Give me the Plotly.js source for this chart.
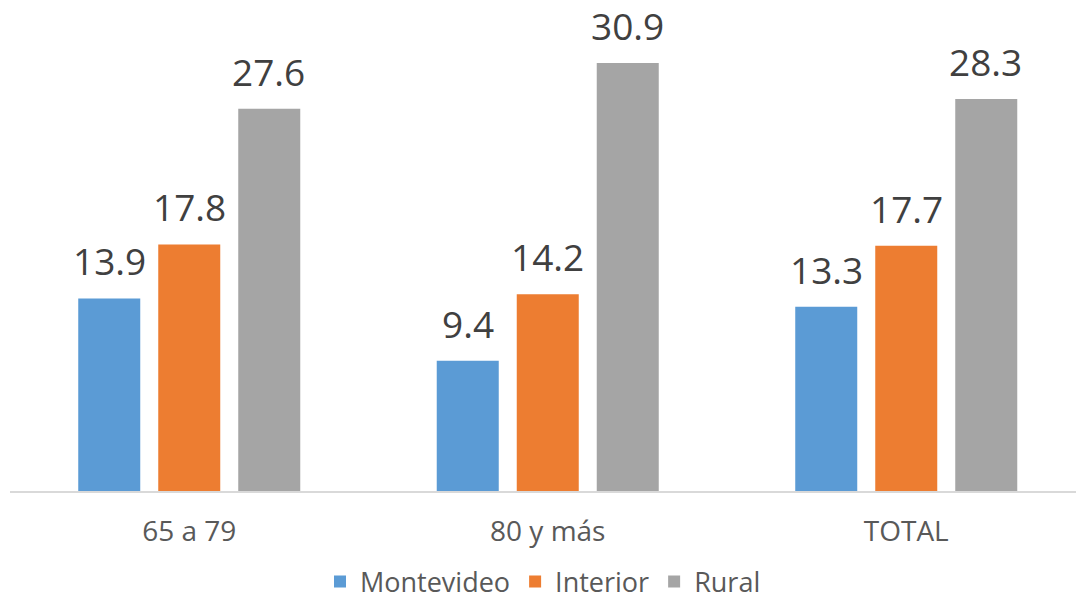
<!DOCTYPE html>
<html>
<head>
<meta charset="utf-8">
<script src="https://cdn.plot.ly/plotly-3.0.1.min.js"></script>
<style>html,body{margin:0;padding:0;background:#fff;}#chart{width:1076px;height:607px;}</style>
</head>
<body>
<div id="chart"></div>
<script>
const categories = ["65 a 79", "80 y más", "TOTAL"];
const seriesNames = ["Montevideo", "Interior", "Rural"];
const montevideo = [13.9, 9.4, 13.3];
const interior = [17.8, 14.2, 17.7];
const rural = [27.6, 30.9, 28.3];

const values = [montevideo, interior, rural];
const colors = ["#5B9BD5", "#ED7D31", "#A5A5A5"];
const offsets = [-80, 0, 79.5];
const font = "Open Sans, DejaVu Sans, sans-serif";

const traces = values.map((v, i) => ({
  type: "bar",
  name: seriesNames[i],
  x: categories,
  y: v,
  marker: {color: colors[i]},
  hoverinfo: "skip"
}));

const annotations = [];
values.forEach((v, i) => {
  v.forEach((val, j) => {
    annotations.push({
      x: categories[j], y: val, xref: "x", yref: "y",
      text: val.toFixed(1), showarrow: false,
      yanchor: "bottom", xanchor: "center",
      xshift: offsets[i], yshift: 10,
      font: {family: font, size: 37, color: "#404040"}
    });
  });
});

const layout = {
  width: 1076, height: 607,
  margin: {l: 10, r: 0, t: 10, b: 116, autoexpand: false},
  paper_bgcolor: "#ffffff", plot_bgcolor: "#ffffff",
  barmode: "group",
  bargap: 0.3305,
  bargroupgap: 0.225,
  showlegend: true,
  legend: {
    orientation: "h", x: 0.5, xanchor: "center", y: -0.24, yanchor: "bottom",
    font: {family: font, size: 27, color: "#595959"},
    itemclick: false, itemdoubleclick: false
  },
  xaxis: {
    type: "category",
    range: [-0.5, 2.4735],
    showgrid: false, zeroline: false,
    showline: true, linecolor: "#d9d9d9", linewidth: 2,
    ticks: "",
    tickfont: {family: font, size: 28, color: "#595959"},
    ticklabelstandoff: 14,
    automargin: false
  },
  yaxis: {
    range: [0, 34.73],
    visible: false, showgrid: false, zeroline: false
  },
  annotations: annotations
};

Plotly.newPlot("chart", traces, layout, {displayModeBar: false, staticPlot: true});
</script>
</body>
</html>
